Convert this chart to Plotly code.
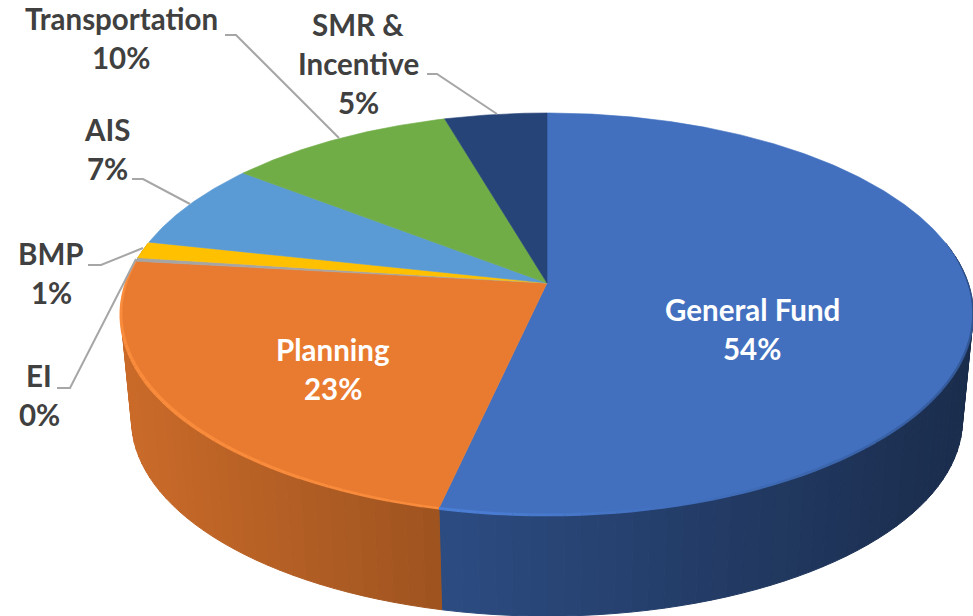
import numpy as np
import plotly.graph_objects as go

categories = ["General Fund", "Planning", "EI", "BMP", "AIS", "Transportation", "SMR & Incentive"]
values = [53.5, 23.3, 0.3, 1.35, 7.05, 10.0, 4.5]
colors = ["#4270BF", "#E97B30", "#A5A5A5", "#FFC000", "#5B9BD5", "#70AD47", "#264478"]

# label layout: one centre per text line (pixel coordinates)
name_lines = [["General Fund"], ["Planning"], ["EI"], ["BMP"], ["AIS"], ["Transportation"], ["SMR &", "Incentive"]]
label_x = [752, 333, 39, 51, 107, 121, 358]
label_y = [309, 349, 375, 253, 129, 18, 24]
leaders = [None, None,
           [(57, 388), (70, 388), (136, 259)],
           [(88, 265), (101, 265), (143, 248)],
           [(132, 179), (143, 179), (190, 204)],
           [(225, 35), (236, 35), (339, 138)],
           [(427, 74), (437, 74), (497, 114)]]

CX, CY, A, B, C = 547.0, 283.0, 196.2, -0.154, 421.0
DEPTH, SHRINK = 106.0, 0.975


def top(theta):
    t = np.radians(theta)
    u, v = np.sin(t), -np.cos(t)
    d = 1 + B * v
    return CX + C * u / d, CY + A * v / d


def bottom(theta):
    x, y = top(theta)
    return CX + (x - CX) * SHRINK, CY + (y - CY) * SHRINK + DEPTH + 1


def shade(hexcol, f):
    r, g, b = [int(hexcol[i:i + 2], 16) for i in (1, 3, 5)]
    return f"rgb({min(255,int(r*f))},{min(255,int(g*f))},{min(255,int(b*f))})"


def mix(c1, c2, t):
    a = [int(c1[i:i + 2], 16) for i in (1, 3, 5)]
    b = [int(c2[i:i + 2], 16) for i in (1, 3, 5)]
    return "rgb(%d,%d,%d)" % tuple(int(p + (q - p) * t) for p, q in zip(a, b))


edges = np.concatenate([[0], np.cumsum(values)]) * 3.6
fig = go.Figure()


def add(xs, ys, **kw):
    fig.add_trace(go.Scatter(x=xs, y=ys, hoverinfo="skip", showlegend=False, **kw))


# side wall, drawn as thin strips, shaded by horizontal position
for col, a0, a1 in zip(colors, edges[:-1], edges[1:]):
    lo, hi = max(a0, 78), min(a1, 282)
    if hi <= lo:
        continue
    steps = np.arange(lo, hi, 2.0).tolist() + [hi]
    for s0, s1 in zip(steps[:-1], steps[1:]):
        xt0, yt0 = top(s0)
        xt1, yt1 = top(s1)
        xb0, yb0 = bottom(s0)
        xb1, yb1 = bottom(s1)
        f = np.interp((xt0 + xt1) / 2, [121, 441, 973], [0.87, 0.68, 0.40])
        c = shade(col, f)
        add([xt0, xt1, xb1, xb0, xt0], [yt0, yt1, yb1, yb0, yt0], mode="lines",
            fill="toself", fillcolor=c, line=dict(color=c, width=1))

# top face
for col, a0, a1 in zip(colors, edges[:-1], edges[1:]):
    th = np.linspace(a0, a1, max(3, int(a1 - a0) * 2))
    x, y = top(th)
    add(np.r_[CX, x, CX], np.r_[CY, y, CY], mode="lines", fill="toself", fillcolor=col,
        line=dict(color=col, width=0.6))

# bevelled rim on the front edge
b0 = edges[1]
for s in np.arange(b0, edges[2], 2.0):
    x, y = top(np.array([s, min(s + 2.0, edges[2])]))
    w = np.interp(s, [b0, 240, edges[2]], [2.5, 4.0, 2.0])
    add(x, y, mode="lines", line=dict(color="#F98B3C", width=w))
for s in np.arange(82, b0, 2.0):
    x, y = top(np.array([s, min(s + 2.0, b0)]))
    t = np.interp(s, [82, 110, 145, b0], [0.15, 0.4, 0.6, 1.0])
    c = mix("#25406F", "#4C80D8", t)
    w = np.interp(s, [82, 110, b0], [1.0, 2.5, 3.0])
    add(x, y, mode="lines", line=dict(color=c, width=w))

# leader lines
for pts in leaders:
    if pts:
        add([p[0] for p in pts], [p[1] for p in pts], mode="lines",
            line=dict(color="#A6A6A6", width=2))

# labels
annotations = []
for names, lx, ly, val, i in zip(name_lines, label_x, label_y, values, range(len(values))):
    col = "#FFFFFF" if i < 2 else "#404040"
    lines = names + [f"{int(val + 0.5)}%"]
    for k, text in enumerate(lines):
        annotations.append(dict(x=lx, y=ly + k * 39, text=text, showarrow=False, xanchor="center",
                                yanchor="middle", font=dict(family="Lato", size=29.5, color=col, weight=700)))

fig.update_layout(
    width=973, height=616, margin=dict(l=0, r=0, t=0, b=0),
    paper_bgcolor="white", plot_bgcolor="white", annotations=annotations, showlegend=False,
    xaxis=dict(range=[0, 973], visible=False, fixedrange=True),
    yaxis=dict(range=[616, 0], visible=False, fixedrange=True),
)
fig.write_html("out.html", config={"displayModeBar": False},
               post_script="document.body.style.margin='0';document.body.style.overflow='hidden';")
